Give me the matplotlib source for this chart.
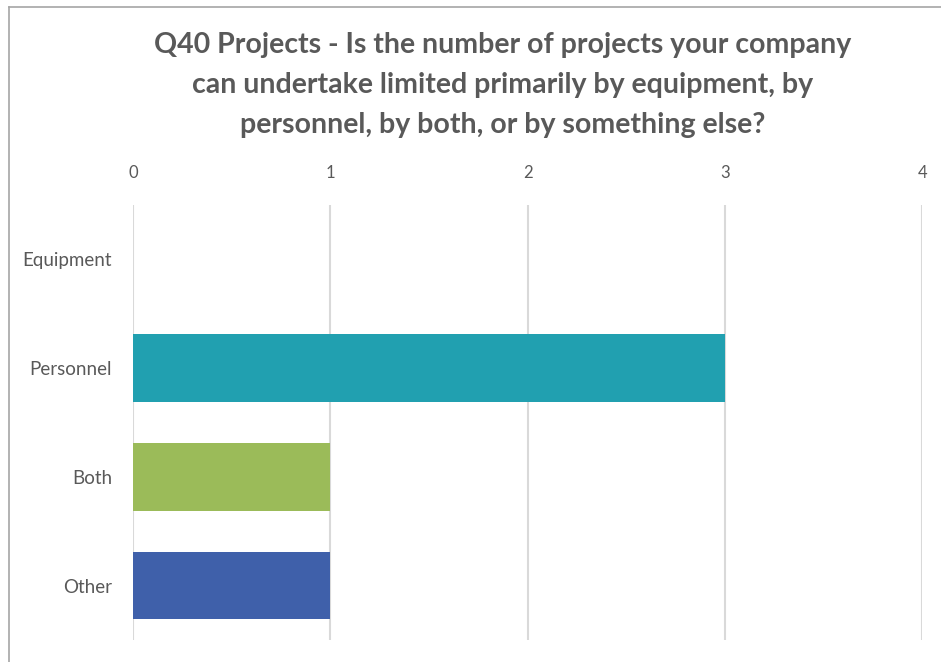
import matplotlib.pyplot as plt
from matplotlib.lines import Line2D

categories = ["Equipment", "Personnel", "Both", "Other"]
counts = [0, 3, 1, 1]
colors = ["#4BACC6", "#21A0B0", "#9BBB59", "#3F60AA"]
x_ticks = [0, 1, 2, 3, 4]

title = ("Q40 Projects - Is the number of projects your company\n"
         "can undertake limited primarily by equipment, by\n"
         "personnel, by both, or by something else?")

plt.rcParams["font.family"] = ["Lato", "DejaVu Sans"]
text_grey = "#595959"

fig = plt.figure(figsize=(9.41, 6.62), dpi=100)
ax = fig.add_axes([0.1413, 0.0332, 0.8387, 0.6571])

y = list(range(len(categories)))
ax.barh(y, counts, height=0.62, color=colors, zorder=3)

ax.set_xlim(0, 4)
ax.set_ylim(len(categories) - 0.5, -0.5)
ax.set_xticks(x_ticks)
ax.set_yticks(y)
ax.set_yticklabels(categories)
ax.xaxis.tick_top()
ax.tick_params(axis="x", length=0, pad=17, labelsize=12, labelcolor=text_grey)
ax.tick_params(axis="y", length=0, pad=15, labelsize=13.5, labelcolor=text_grey)
ax.grid(axis="x", color="#D9D9D9", linewidth=1.5, zorder=0)
for s in ax.spines.values():
    s.set_visible(False)

fig.text(0.534, 0.952, title, ha="center", va="top", fontsize=20.5,
         fontweight="bold", color=text_grey, linespacing=1.68)

# thin frame on the left and top edges
fig.add_artist(Line2D([0.0096, 0.0096], [0, 0.9894], transform=fig.transFigure,
                      color="#A6A6A6", linewidth=1.2))
fig.add_artist(Line2D([0.0096, 1.0], [0.9894, 0.9894], transform=fig.transFigure,
                      color="#A6A6A6", linewidth=1.2))

fig.savefig("out.png", dpi=100)
